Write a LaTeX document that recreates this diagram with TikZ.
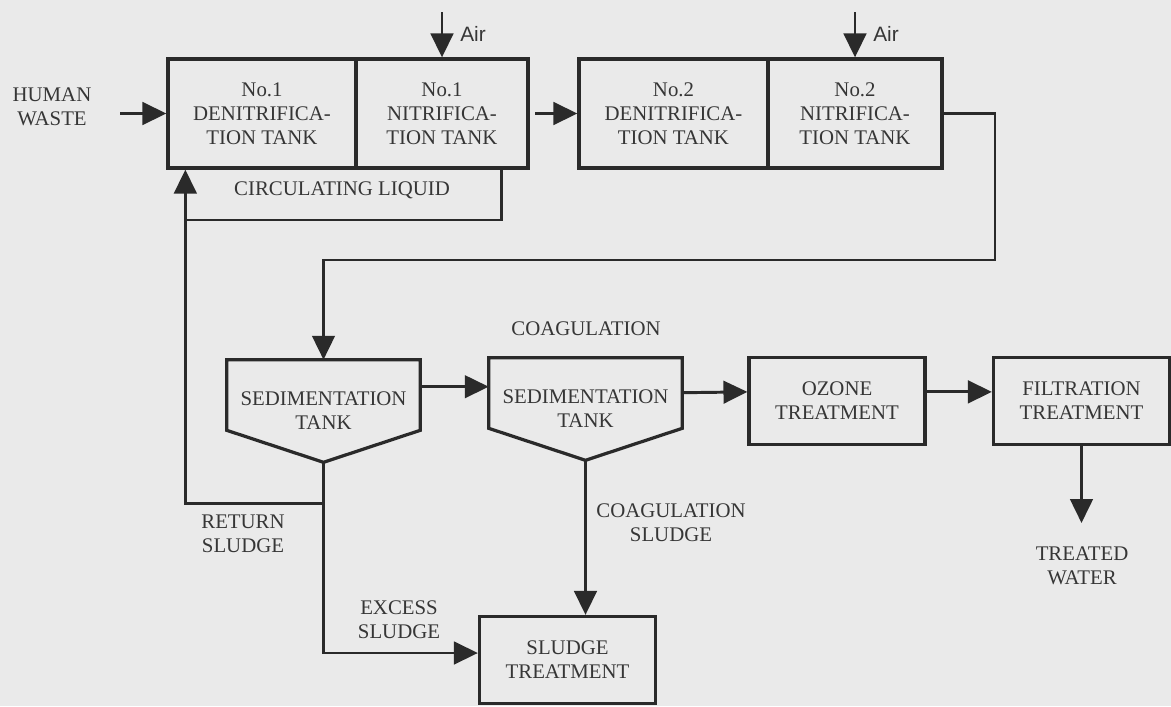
\documentclass[tikz,border=0pt]{standalone}
\usepackage{fontspec}
\setmainfont{Liberation Serif}
\newfontfamily\airfont{Liberation Sans}
\usetikzlibrary{arrows.meta,calc}
\definecolor{PlantBg}{HTML}{EAEAEA}
\definecolor{PlantInk}{HTML}{2A2A2A}
\definecolor{PlantText}{HTML}{363636}

\begin{document}
\begin{tikzpicture}[
    x=0.025cm,y=-0.025cm,
    font=\fontsize{14.8}{17.2}\selectfont,
    every node/.style={text=PlantText},
    tank/.style={draw=PlantInk,line width=2.3pt,minimum height=2.725cm,align=center,inner sep=0pt},
    unit/.style={draw=PlantInk,line width=2.3pt,minimum width=4.4cm,minimum height=2.175cm,align=center,inner sep=0pt},
    settler/.style={minimum width=4.825cm,minimum height=2.55cm,align=center,inner sep=0pt},
    note/.style={align=center,inner sep=0pt},
    pipe/.style={draw=PlantInk,line width=2.1pt},
    arrow/.style={pipe,-{Triangle[length=17pt,width=16pt]}}
  ]
    \fill[PlantBg] (0,0) rectangle (1171,706);
    \useasboundingbox (0,0) rectangle (1171,706);

    \node[tank,minimum width=4.7cm] (den1) at (262,113.5) {No.1\\DENITRIFICA-\\TION TANK};
    \node[tank,minimum width=4.3cm] (nit1) at (442,113.5) {No.1\\NITRIFICA-\\TION TANK};
    \node[tank,minimum width=4.725cm] (den2) at (673.5,113.5) {No.2\\DENITRIFICA-\\TION TANK};
    \node[tank,minimum width=4.35cm] (nit2) at (855,113.5) {No.2\\NITRIFICA-\\TION TANK};
    \node[settler] (sed1) at (323.5,411) {SEDIMENTATION\\TANK};
    \node[settler] (sed2) at (585.5,409) {SEDIMENTATION\\TANK};
    \node[unit] (ozone) at (837,401) {OZONE\\TREATMENT};
    \node[unit] (filt) at (1081.5,401) {FILTRATION\\TREATMENT};
    \node[unit] (sludge) at (567.5,660) {SLUDGE\\TREATMENT};

    \foreach \s in {sed1,sed2}
      \draw[pipe,line width=2.3pt] (\s.north west) -- (\s.north east) -- ($(\s.south east)+(0,-32)$)
        -- (\s.south) -- ($(\s.south west)+(0,-32)$) -- cycle;

    \node[note] (waste) at (52,107) {HUMAN\\WASTE};
    \node[note] (circ) at (342,190) {CIRCULATING LIQUID};
    \node[note] (coag) at (586,329) {COAGULATION};
    \node[note] (ret) at (243,534) {RETURN\\SLUDGE};
    \node[note] (excess) at (399,620) {EXCESS\\SLUDGE};
    \node[note] (coagsl) at (671,523) {COAGULATION\\SLUDGE};
    \node[note] (treated) at (1082,566) {TREATED\\WATER};
    \node[note,anchor=west,font={\airfont\fontsize{14.8}{17.2}\selectfont}] (airA) at (460,34) {Air};
    \node[note,anchor=west,font={\airfont\fontsize{14.8}{17.2}\selectfont}] (airB) at (873,34) {Air};

    \coordinate (feed) at (120,113.5);
    \coordinate (airin1) at (442,12);
    \coordinate (airin2) at (855,12);
    \coordinate (loopC) at (187,220);
    \coordinate (bend) at (995,260);
    \coordinate (outlet) at (1081.5,523);

    \draw[arrow] (feed) -- (den1.west);
    \draw[arrow] (airin1) -- (nit1.north);
    \draw[arrow] (airin2) -- (nit2.north);
    \draw[arrow] ([xshift=4pt]nit1.east) -- (den2.west);
    \draw[pipe] ($(nit1.south east)+(-28,0)$) |- (loopC);
    \draw[arrow] (sed1.south) -- ++(0,41) -| ($(den1.south west)+(19,0)$);
    \draw[arrow] (sed1.south) |- ($(sludge.west)+(0,-7)$);
    \draw[arrow] (sed2.south) -- (sed2.south |- sludge.north);
    \draw[arrow] (nit2.east) -| (bend) -| (sed1.north);
    \draw[arrow] ($(sed1.north east)+(0,27)$) -- ($(sed2.north west)+(0,29)$);
    \draw[arrow] ($(sed2.north east)+(0,35)$) -- ($(ozone.north west)+(0,36)$);
    \draw[arrow] ($(ozone.north east)+(0,36)$) -- ($(filt.north west)+(0,36)$);
    \draw[arrow] (filt.south) -- (outlet);
  \end{tikzpicture}
\end{document}
